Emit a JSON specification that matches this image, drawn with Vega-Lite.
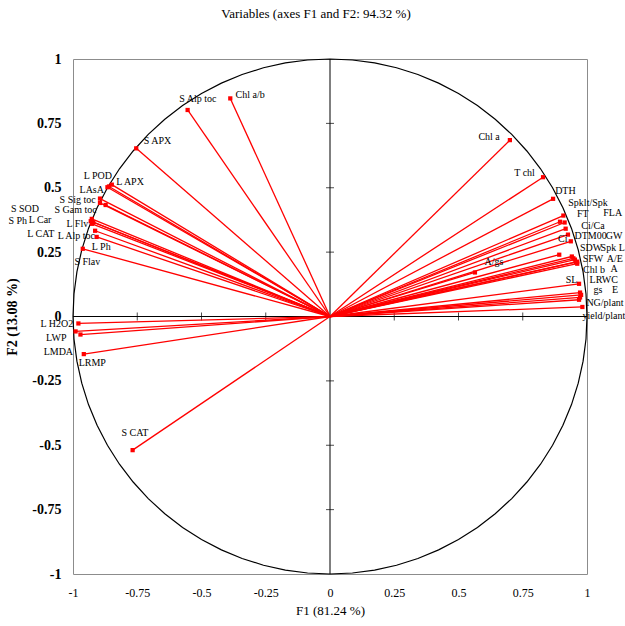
{
  "$schema": "https://vega.github.io/schema/vega-lite/v6.json",
  "autosize": {"type": "none"},
  "padding": {"left": 73, "top": 59, "right": 38, "bottom": 52},
  "width": 514,
  "height": 515,
  "background": "white",
  "title": {
    "text": "Variables (axes F1 and F2: 94.32 %)",
    "font": "Liberation Serif",
    "fontSize": 13,
    "fontWeight": "normal",
    "color": "black",
    "anchor": "middle",
    "dx": -14,
    "offset": 31
  },
  "config": {
    "view": {"stroke": "#8c8c8c", "strokeWidth": 1},
    "axis": {"grid": false, "domain": false, "ticks": false, "labelColor": "black", "titleColor": "black", "labelFont": "Liberation Serif", "titleFont": "Liberation Serif"}
  },
  "datasets": {
    "circle": [
      {"a":0,"cx":1,"cy":0},{"a":5,"cx":0.9962,"cy":0.0872},{"a":10,"cx":0.9848,"cy":0.1736},{"a":15,"cx":0.9659,"cy":0.2588},{"a":20,"cx":0.9397,"cy":0.342},{"a":25,"cx":0.9063,"cy":0.4226},{"a":30,"cx":0.866,"cy":0.5},{"a":35,"cx":0.8192,"cy":0.5736},{"a":40,"cx":0.766,"cy":0.6428},{"a":45,"cx":0.7071,"cy":0.7071},{"a":50,"cx":0.6428,"cy":0.766},{"a":55,"cx":0.5736,"cy":0.8192},{"a":60,"cx":0.5,"cy":0.866},{"a":65,"cx":0.4226,"cy":0.9063},{"a":70,"cx":0.342,"cy":0.9397},{"a":75,"cx":0.2588,"cy":0.9659},{"a":80,"cx":0.1736,"cy":0.9848},{"a":85,"cx":0.0872,"cy":0.9962},
      {"a":90,"cx":0,"cy":1},{"a":95,"cx":-0.0872,"cy":0.9962},{"a":100,"cx":-0.1736,"cy":0.9848},{"a":105,"cx":-0.2588,"cy":0.9659},{"a":110,"cx":-0.342,"cy":0.9397},{"a":115,"cx":-0.4226,"cy":0.9063},{"a":120,"cx":-0.5,"cy":0.866},{"a":125,"cx":-0.5736,"cy":0.8192},{"a":130,"cx":-0.6428,"cy":0.766},{"a":135,"cx":-0.7071,"cy":0.7071},{"a":140,"cx":-0.766,"cy":0.6428},{"a":145,"cx":-0.8192,"cy":0.5736},{"a":150,"cx":-0.866,"cy":0.5},{"a":155,"cx":-0.9063,"cy":0.4226},{"a":160,"cx":-0.9397,"cy":0.342},{"a":165,"cx":-0.9659,"cy":0.2588},{"a":170,"cx":-0.9848,"cy":0.1736},{"a":175,"cx":-0.9962,"cy":0.0872},
      {"a":180,"cx":-1,"cy":0},{"a":185,"cx":-0.9962,"cy":-0.0872},{"a":190,"cx":-0.9848,"cy":-0.1736},{"a":195,"cx":-0.9659,"cy":-0.2588},{"a":200,"cx":-0.9397,"cy":-0.342},{"a":205,"cx":-0.9063,"cy":-0.4226},{"a":210,"cx":-0.866,"cy":-0.5},{"a":215,"cx":-0.8192,"cy":-0.5736},{"a":220,"cx":-0.766,"cy":-0.6428},{"a":225,"cx":-0.7071,"cy":-0.7071},{"a":230,"cx":-0.6428,"cy":-0.766},{"a":235,"cx":-0.5736,"cy":-0.8192},{"a":240,"cx":-0.5,"cy":-0.866},{"a":245,"cx":-0.4226,"cy":-0.9063},{"a":250,"cx":-0.342,"cy":-0.9397},{"a":255,"cx":-0.2588,"cy":-0.9659},{"a":260,"cx":-0.1736,"cy":-0.9848},{"a":265,"cx":-0.0872,"cy":-0.9962},
      {"a":270,"cx":0,"cy":-1},{"a":275,"cx":0.0872,"cy":-0.9962},{"a":280,"cx":0.1736,"cy":-0.9848},{"a":285,"cx":0.2588,"cy":-0.9659},{"a":290,"cx":0.342,"cy":-0.9397},{"a":295,"cx":0.4226,"cy":-0.9063},{"a":300,"cx":0.5,"cy":-0.866},{"a":305,"cx":0.5736,"cy":-0.8192},{"a":310,"cx":0.6428,"cy":-0.766},{"a":315,"cx":0.7071,"cy":-0.7071},{"a":320,"cx":0.766,"cy":-0.6428},{"a":325,"cx":0.8192,"cy":-0.5736},{"a":330,"cx":0.866,"cy":-0.5},{"a":335,"cx":0.9063,"cy":-0.4226},{"a":340,"cx":0.9397,"cy":-0.342},{"a":345,"cx":0.9659,"cy":-0.2588},{"a":350,"cx":0.9848,"cy":-0.1736},{"a":355,"cx":0.9962,"cy":-0.0872},{"a":360,"cx":1,"cy":0}
    ],
    "ticks": [
      {"t":-0.75},{"t":-0.5},{"t":-0.25},{"t":0.25},{"t":0.5},{"t":0.75}
    ],
    "vars": [
      {"v":"S Alp toc","x":-0.554,"y":0.802,"lx":-0.514,"ly":0.846},
      {"v":"Chl a/b","x":-0.388,"y":0.847,"lx":-0.311,"ly":0.861},
      {"v":"S APX","x":-0.754,"y":0.653,"lx":-0.671,"ly":0.681},
      {"v":"L APX","x":-0.849,"y":0.512,"lx":-0.778,"ly":0.523},
      {"v":"L POD","x":-0.86,"y":0.505,"lx":-0.903,"ly":0.547},
      {"v":"LAsA","x":-0.866,"y":0.502,"lx":-0.927,"ly":0.493},
      {"v":"S Sig toc","x":-0.895,"y":0.458,"lx":-0.982,"ly":0.454},
      {"v":"S Gam toc","x":-0.895,"y":0.441,"lx":-0.99,"ly":0.412},
      {"v":"S SOD","x":-0.873,"y":0.433,"lx":-1.187,"ly":0.418},
      {"v":"S Ph","x":-0.927,"y":0.379,"lx":-1.215,"ly":0.37},
      {"v":"L Car","x":-0.931,"y":0.37,"lx":-1.128,"ly":0.376},
      {"v":"L CAT","x":-0.921,"y":0.366,"lx":-1.125,"ly":0.322},
      {"v":"L Flv","x":-0.926,"y":0.36,"lx":-0.983,"ly":0.36},
      {"v":"L Alp toc","x":-0.914,"y":0.333,"lx":-0.987,"ly":0.311},
      {"v":"L Ph","x":-0.908,"y":0.309,"lx":-0.89,"ly":0.27},
      {"v":"S Flav","x":-0.962,"y":0.263,"lx":-0.944,"ly":0.21},
      {"v":"L H2O2","x":-0.979,"y":-0.027,"lx":-1.063,"ly":-0.03},
      {"v":"LWP","x":-0.99,"y":-0.058,"lx":-1.065,"ly":-0.085},
      {"v":"LMDA","x":-0.971,"y":-0.07,"lx":-1.057,"ly":-0.138},
      {"v":"LRMP","x":-0.958,"y":-0.146,"lx":-0.925,"ly":-0.18},
      {"v":"S CAT","x":-0.768,"y":-0.519,"lx":-0.759,"ly":-0.451},
      {"v":"Chl a","x":0.7,"y":0.685,"lx":0.619,"ly":0.698},
      {"v":"T chl","x":0.829,"y":0.541,"lx":0.757,"ly":0.558},
      {"v":"DTH","x":0.868,"y":0.457,"lx":0.916,"ly":0.486},
      {"v":"Spklt/Spk","x":0.908,"y":0.392,"lx":1.004,"ly":0.441},
      {"v":"FT","x":0.895,"y":0.368,"lx":0.984,"ly":0.399},
      {"v":"FLA","x":0.913,"y":0.365,"lx":1.1,"ly":0.402},
      {"v":"Ci/Ca","x":0.917,"y":0.341,"lx":1.023,"ly":0.353},
      {"v":"DTM00","x":0.926,"y":0.318,"lx":1.014,"ly":0.314},
      {"v":"GW","x":0.892,"y":0.24,"lx":1.105,"ly":0.314},
      {"v":"Ci","x":0.937,"y":0.292,"lx":0.906,"ly":0.302},
      {"v":"SDW","x":0.941,"y":0.233,"lx":1.016,"ly":0.267},
      {"v":"Spk L","x":0.947,"y":0.226,"lx":1.1,"ly":0.267},
      {"v":"SFW","x":0.953,"y":0.221,"lx":1.023,"ly":0.222},
      {"v":"A/E","x":0.962,"y":0.213,"lx":1.108,"ly":0.223},
      {"v":"Chl b","x":0.962,"y":0.205,"lx":1.027,"ly":0.181},
      {"v":"A","x":0.957,"y":0.211,"lx":1.105,"ly":0.184},
      {"v":"A/gs","x":0.564,"y":0.171,"lx":0.638,"ly":0.21},
      {"v":"SL","x":0.969,"y":0.127,"lx":0.94,"ly":0.143},
      {"v":"LRWC","x":0.973,"y":0.093,"lx":1.065,"ly":0.142},
      {"v":"gs","x":0.973,"y":0.074,"lx":1.043,"ly":0.104},
      {"v":"E","x":0.969,"y":0.065,"lx":1.109,"ly":0.104},
      {"v":"NG/plant","x":0.977,"y":0.084,"lx":1.07,"ly":0.054},
      {"v":"yield/plant","x":0.982,"y":0.037,"lx":1.066,"ly":0.003}
    ]
  },
  "layer": [
    {
      "data": {"name": "circle"},
      "mark": {"type": "line", "color": "black", "strokeWidth": 1.2},
      "encoding": {
        "x": {"field": "cx", "type": "quantitative", "scale": {"domain": [-1, 1], "nice": false, "zero": false},
          "axis": {"values": [-1, -0.75, -0.5, -0.25, 0, 0.25, 0.5, 0.75, 1], "labelExpr": "toString(datum.value)", "labelFontSize": 12, "labelPadding": 13, "title": "F1 (81.24 %)", "titleFontSize": 13, "titleFontWeight": "normal", "titlePadding": 6, "labelFlush": false}},
        "y": {"field": "cy", "type": "quantitative", "scale": {"domain": [-1, 1], "nice": false, "zero": false},
          "axis": {"values": [-1, -0.75, -0.5, -0.25, 0, 0.25, 0.5, 0.75, 1], "labelExpr": "toString(datum.value)", "labelFontSize": 14, "labelFontWeight": "bold", "labelPadding": 12, "title": "F2 (13.08 %)", "titleFontSize": 14, "titleFontWeight": "bold", "titlePadding": 12, "labelFlush": false}},
        "order": {"field": "a", "type": "quantitative"}
      }
    },
    {
      "data": {"values": [{"z": 0}]},
      "mark": {"type": "rule", "color": "black", "strokeWidth": 1},
      "encoding": {"x": {"field": "z", "type": "quantitative"}}
    },
    {
      "data": {"values": [{"z": 0}]},
      "mark": {"type": "rule", "color": "black", "strokeWidth": 1},
      "encoding": {"y": {"field": "z", "type": "quantitative"}}
    },
    {
      "data": {"name": "ticks"},
      "mark": {"type": "tick", "orient": "vertical", "color": "black", "size": 8, "thickness": 1},
      "encoding": {"x": {"field": "t", "type": "quantitative"}, "y": {"datum": 0}}
    },
    {
      "data": {"name": "ticks"},
      "mark": {"type": "tick", "orient": "horizontal", "color": "black", "size": 8, "thickness": 1},
      "encoding": {"y": {"field": "t", "type": "quantitative"}, "x": {"datum": 0}}
    },
    {
      "data": {"name": "vars"},
      "mark": {"type": "rule", "color": "#ff0000", "strokeWidth": 1.3},
      "encoding": {
        "x": {"field": "x", "type": "quantitative"},
        "y": {"field": "y", "type": "quantitative"},
        "x2": {"datum": 0},
        "y2": {"datum": 0}
      }
    },
    {
      "data": {"name": "vars"},
      "mark": {"type": "point", "shape": "square", "filled": true, "color": "#ff0000", "size": 18, "opacity": 1},
      "encoding": {
        "x": {"field": "x", "type": "quantitative"},
        "y": {"field": "y", "type": "quantitative"}
      }
    },
    {
      "data": {"name": "vars"},
      "mark": {"type": "text", "font": "Liberation Serif", "fontSize": 10, "color": "black", "align": "center", "baseline": "middle"},
      "encoding": {
        "x": {"field": "lx", "type": "quantitative"},
        "y": {"field": "ly", "type": "quantitative"},
        "text": {"field": "v"}
      }
    }
  ]
}
